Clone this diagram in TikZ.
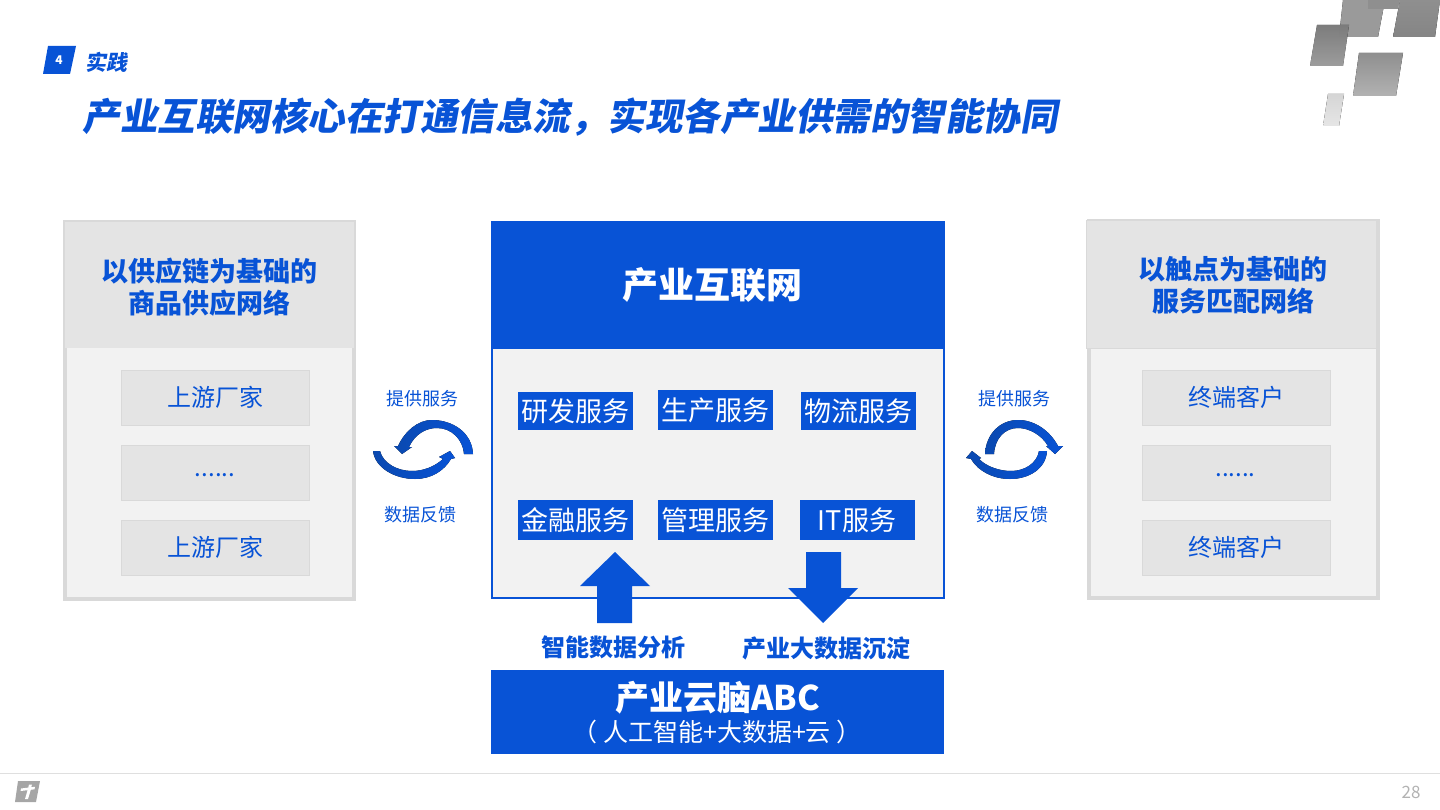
\documentclass[tikz,border=0pt]{standalone}
\usepackage{fontspec}
\setmainfont{Noto Sans CJK SC}
\newfontfamily\slantf[FakeSlant=0.18]{Noto Sans CJK SC}
\definecolor{brand}{HTML}{0853D6}
\definecolor{brandd}{HTML}{0A49B0}
\definecolor{panelb}{HTML}{D9D9D9}
\definecolor{panelh}{HTML}{E4E4E4}
\definecolor{panelf}{HTML}{F2F2F2}
\definecolor{lga}{HTML}{9A9A9A}
\definecolor{lgb}{HTML}{8F8F8F}
\definecolor{lgc}{HTML}{858585}
\definecolor{lgd}{HTML}{A8A8A8}
\definecolor{lge}{HTML}{B2B2B2}
\definecolor{lgf}{HTML}{D5D5D5}
\definecolor{lgg}{HTML}{E6E6E6}
\newcommand{\fs}[1]{\fontsize{#1}{#1}\selectfont}
\tikzset{
  x=1pt,y=-1pt,
  txt/.style={inner sep=0pt,text=brand,align=center},
  head/.style={txt,font=\fs{27}\bfseries},
  headw/.style={inner sep=0pt,text=white,align=center},
  sub/.style={fill=panelh,draw=panelb,line width=.5pt,minimum width=188pt,minimum height=54.5pt,inner sep=0pt,text=brand,font=\fs{24}},
  svc/.style={fill=brand,text=white,inner sep=0pt,minimum width=115pt,minimum height=40pt,font=\fs{27}},
  lab/.style={txt,font=\fs{18}},
  biglab/.style={txt,font=\fs{24}\bfseries},
  swirl/.style={left color=brandd,right color=brand,draw=none},
  bigarrow/.style={fill=brand,draw=none},
}
\begin{document}
\begin{tikzpicture}
\useasboundingbox (0,0) rectangle (1440,810);
% logo top right
\fill[top color=lga,bottom color=lga] (1343,0) -- (1385,0) -- (1378,37) -- (1339,37) -- cycle;
\fill[top color=lgb,bottom color=lgc] (1400,0) -- (1440,0) -- (1435,37) -- (1393,37) -- cycle;
\fill[lgb] (1368,0) -- (1400,0) -- (1398,9) -- (1368,9) -- cycle;
\fill[top color=lgc,bottom color=lgd,opacity=.92] (1317,25) -- (1349,25) -- (1343,66) -- (1310,66) -- cycle;
\fill[top color=lgb,bottom color=lge] (1359,53) -- (1403,53) -- (1396,96) -- (1353,96) -- cycle;
\fill[top color=lgf,bottom color=lgg] (1328,94) -- (1344,94) -- (1339,126) -- (1323,126) -- cycle;
% heading
\fill[brand] (48,46) -- (76,46) -- (70,74) -- (43,74) -- cycle;
\node[inner sep=0pt,text=white,font=\fs{12}\bfseries] (num) at (59,60) {4};
\node[txt,font=\slantf\fs{21}\bfseries] (sec) at (106,62) {实践};
\node[txt,font=\slantf\fs{37.5}\bfseries] (title) at (570,117) {产业互联网核心在打通信息流，实现各产业供需的智能协同};
% left panel
\node[fill=panelf,draw=panelb,line width=4pt,minimum width=289pt,minimum height=377pt,inner sep=0pt] (lp) at (209.5,410.5) {};
\node[fill=panelh,minimum width=289pt,minimum height=126pt,inner sep=0pt] (lh) at (209.5,285) {};
\node[head] (lht) at (209,287) {以供应链为基础的\\[5pt]商品供应网络};
\node[sub] (l1) at (215.5,397.5) {上游厂家};
\node[sub] (l2) at (215.5,472.5) {};
\node[txt,font=\fs{24}] (l2t) at (215,475) {......};
\node[sub] (l3) at (215.5,547.5) {上游厂家};
% right panel
\node[fill=panelf,draw=panelb,line width=4pt,minimum width=289pt,minimum height=377pt,inner sep=0pt] (rp) at (1233.5,409.5) {};
\node[fill=panelh,draw=panelb,line width=.5pt,minimum width=290pt,minimum height=128pt,inner sep=0pt] (rh) at (1231,284) {};
\node[head] (rht) at (1233,285) {以触点为基础的\\[5pt]服务匹配网络};
\node[sub] (r1) at (1236,397.5) {终端客户};
\node[sub] (r2) at (1236,472.5) {};
\node[txt,font=\fs{24}] (r2t) at (1235.5,475) {......};
\node[sub] (r3) at (1236,547.5) {终端客户};
% centre
\node[fill=panelf,draw=brand,line width=2pt,minimum width=452pt,minimum height=376pt,inner sep=0pt] (cp) at (718,410) {};
\node[fill=brand,minimum width=454pt,minimum height=128pt,inner sep=0pt] (ch) at (718,285) {};
\node[headw,font=\fs{36}\bfseries] (cht) at (712,285) {产业互联网};
\node[svc,minimum height=38pt] (s1) at (575.5,411) {研发服务};
\node[svc] (s2) at (715.5,410) {生产服务};
\node[svc,minimum height=38pt] (s3) at (858,411) {物流服务};
\node[svc] (s4) at (575.5,520) {金融服务};
\node[svc] (s5) at (715.5,520) {管理服务};
\node[svc] (s6) at (857,520) {IT服务};
% block arrows
\fill[bigarrow] (615,552) -- (650,586) -- (632,586) -- (632,623) -- (597,623) -- (597,586) -- (580,586) -- cycle;
\fill[bigarrow] (806,552) -- (841,552) -- (841,588) -- (858,588) -- (823,623) -- (788,588) -- (806,588) -- cycle;
\node[biglab] (a1) at (613,647) {智能数据分析};
\node[biglab] (a2) at (826,648) {产业大数据沉淀};
% bottom bar
\node[fill=brand,minimum width=453pt,minimum height=84pt,inner sep=0pt] (bb) at (717.5,712) {};
\node[headw,font=\fs{34}\bfseries] (bb1) at (717.5,698) {产业云脑ABC};
\node[headw,font=\fs{25}] (bb2) at (717,732) {（ 人工智能+大数据+云 ）};
% swirl labels
\node[lab] (t1) at (422.5,399) {提供服务};
\node[lab] (t2) at (420.5,515) {数据反馈};
\node[lab] (t3) at (1014,399) {提供服务};
\node[lab] (t4) at (1012,515) {数据反馈};
% left swirl
\fill[swirl] (473,454) .. controls (472,432) and (452,420) .. (432,420) .. controls (418,420) and (405,431) .. (398,446) -- (394,446) -- (402,454) -- (412,447) -- (409,447) .. controls (415,434) and (426,428) .. (437,428) .. controls (452,428) and (463,440) .. (464,454) -- cycle;
\fill[swirl] (373,451) .. controls (375,468) and (395,479) .. (415,479) .. controls (431,479) and (444,471) .. (451,459) -- (455,458) -- (450,451) -- (439,457) -- (443,459) .. controls (434,467) and (423,471) .. (412,471) .. controls (397,471) and (383,463) .. (380,451) -- cycle;
% right swirl
\fill[swirl] (985,454) .. controls (986,434) and (1000,420) .. (1018,420) .. controls (1035,420) and (1050,431) .. (1058,446) -- (1063,446) -- (1055,454) -- (1046,446) -- (1048,446) .. controls (1041,434) and (1028,428) .. (1018,428) .. controls (1005,428) and (995,438) .. (994,454) -- cycle;
\fill[swirl] (1047,451) .. controls (1046,468) and (1030,479) .. (1010,479) .. controls (993,479) and (978,471) .. (971,459) -- (966,458) -- (972,451) -- (981,458) -- (979,459) .. controls (987,467) and (1000,471) .. (1011,471) .. controls (1025,471) and (1037,463) .. (1039,451) -- cycle;
% footer
\draw[gray!25,line width=1pt] (0,773.5) -- (1440,773.5);
\fill[gray!70] (18,781) -- (40,781) -- (36,802) -- (15,802) -- cycle;
\fill[white] (21,788.5) -- (28.3,787.6) -- (29,784.5) -- (32,784.5) -- (31.3,787.2) -- (35,786.8) -- (34.5,789.3) -- (30.8,789.8) -- (28,799) -- (25,799) -- (27.6,790.2) -- (20.5,791) -- cycle;
\node[inner sep=0pt,text=gray!60,font=\fs{17}] (pg) at (1411,792) {28};
\end{tikzpicture}
\end{document}
